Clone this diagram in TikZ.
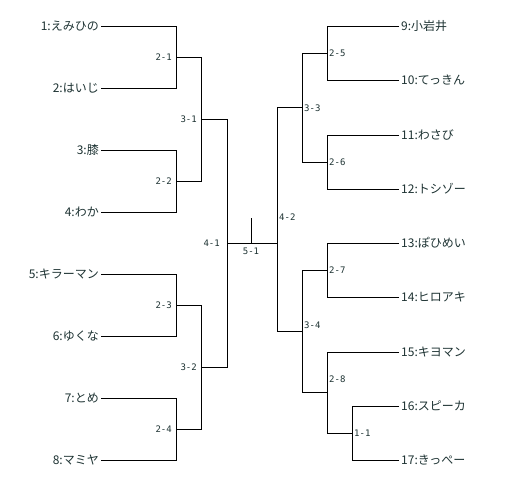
\documentclass[tikz,border=0pt]{standalone}
\usepackage{fontspec}
\setmainfont{Noto Sans CJK JP}
\newfontfamily\numfont{DejaVu Sans Mono}
\definecolor{txt}{HTML}{1E3333}
\begin{document}
\begin{tikzpicture}[x=1pt,y=-1pt,
  lname/.style={font=\fontsize{12}{12}\selectfont, text=txt, inner xsep=2pt, inner ysep=0pt},
  lnum/.style={font=\numfont\fontsize{9}{9}\selectfont, text=txt, inner xsep=2pt, inner ysep=0pt},
  br/.style={draw=black, line width=1pt}]
\useasboundingbox (0,0) rectangle (522,488);
\fill[white] (0,0) rectangle (522,488);
% left players
\node[lname,anchor=east] (p1) at (101,26) {1:えみひの};
\node[lname,anchor=east] (p2) at (101,88) {2:はいじ};
\node[lname,anchor=east] (p3) at (101,150) {3:膝};
\node[lname,anchor=east] (p4) at (101,212) {4:わか};
\node[lname,anchor=east] (p5) at (101,274) {5:キラーマン};
\node[lname,anchor=east] (p6) at (101,336) {6:ゆくな};
\node[lname,anchor=east] (p7) at (101,398) {7:とめ};
\node[lname,anchor=east] (p8) at (101,460) {8:マミヤ};
% right players
\node[lname,anchor=west] (p9) at (399,26) {9:小岩井};
\node[lname,anchor=west] (p10) at (399,80) {10:てっきん};
\node[lname,anchor=west] (p11) at (399,135) {11:わさび};
\node[lname,anchor=west] (p12) at (399,189) {12:トシゾー};
\node[lname,anchor=west] (p13) at (399,243) {13:ぽひめい};
\node[lname,anchor=west] (p14) at (399,297) {14:ヒロアキ};
\node[lname,anchor=west] (p15) at (399,352) {15:キヨマン};
\node[lname,anchor=west] (p16) at (399,406) {16:スピーカ};
\node[lname,anchor=west] (p17) at (399,460) {17:きっぺー};
% match points
\coordinate (m21) at (176,57);
\coordinate (m22) at (176,181);
\coordinate (m23) at (176,305);
\coordinate (m24) at (176,429);
\coordinate (m31) at (201,119);
\coordinate (m32) at (201,367);
\coordinate (m41) at (227,243);
\coordinate (m25) at (327,53);
\coordinate (m26) at (327,162);
\coordinate (m27) at (327,270);
\coordinate (m28) at (327,392.5);
\coordinate (m11) at (352,433);
\coordinate (m33) at (302,107.5);
\coordinate (m34) at (302,331);
\coordinate (m42) at (277,219);
\coordinate (fin) at (277,243);
\coordinate (wtop) at (251,218);
\coordinate (wbot) at (251,243);
% left brackets
\draw[br] (p1.east) -| (m21); \draw[br] (p2.east) -| (m21);
\draw[br] (p3.east) -| (m22); \draw[br] (p4.east) -| (m22);
\draw[br] (p5.east) -| (m23); \draw[br] (p6.east) -| (m23);
\draw[br] (p7.east) -| (m24); \draw[br] (p8.east) -| (m24);
\draw[br] (m21) -| (m31); \draw[br] (m22) -| (m31);
\draw[br] (m23) -| (m32); \draw[br] (m24) -| (m32);
\draw[br] (m31) -| (m41); \draw[br] (m32) -| (m41);
% right brackets
\draw[br] (p9.west) -| (m25); \draw[br] (p10.west) -| (m25);
\draw[br] (p11.west) -| (m26); \draw[br] (p12.west) -| (m26);
\draw[br] (p13.west) -| (m27); \draw[br] (p14.west) -| (m27);
\draw[br] (p16.west) -| (m11); \draw[br] (p17.west) -| (m11);
\draw[br] (p15.west) -| (m28); \draw[br] (m11) -| (m28);
\draw[br] (m25) -| (m33); \draw[br] (m26) -| (m33);
\draw[br] (m27) -| (m34); \draw[br] (m28) -| (m34);
\draw[br] (m33) -| (m42); \draw[br] (m34) -| (m42);
% final
\draw[br] (m41) -- (fin);
\draw[br] (wtop) -- (wbot);
% labels
\node[lnum,anchor=east] (l21) at (174,57) {2-1};
\node[lnum,anchor=east] (l22) at (174,181) {2-2};
\node[lnum,anchor=east] (l23) at (174,305) {2-3};
\node[lnum,anchor=east] (l24) at (174,429) {2-4};
\node[lnum,anchor=east] (l31) at (199,119) {3-1};
\node[lnum,anchor=east] (l32) at (199,367) {3-2};
\node[lnum,anchor=east] (l41) at (222,243) {4-1};
\node[lnum] (l51) at (251,251) {5-1};
\node[lnum,anchor=west] (l42) at (277,217) {4-2};
\node[lnum,anchor=west] (l33) at (302,108) {3-3};
\node[lnum,anchor=west] (l34) at (302,325) {3-4};
\node[lnum,anchor=west] (l25) at (327,53) {2-5};
\node[lnum,anchor=west] (l26) at (327,162) {2-6};
\node[lnum,anchor=west] (l27) at (327,270) {2-7};
\node[lnum,anchor=west] (l28) at (327,379) {2-8};
\node[lnum,anchor=west] (l11) at (352,433) {1-1};
\end{tikzpicture}
\end{document}
